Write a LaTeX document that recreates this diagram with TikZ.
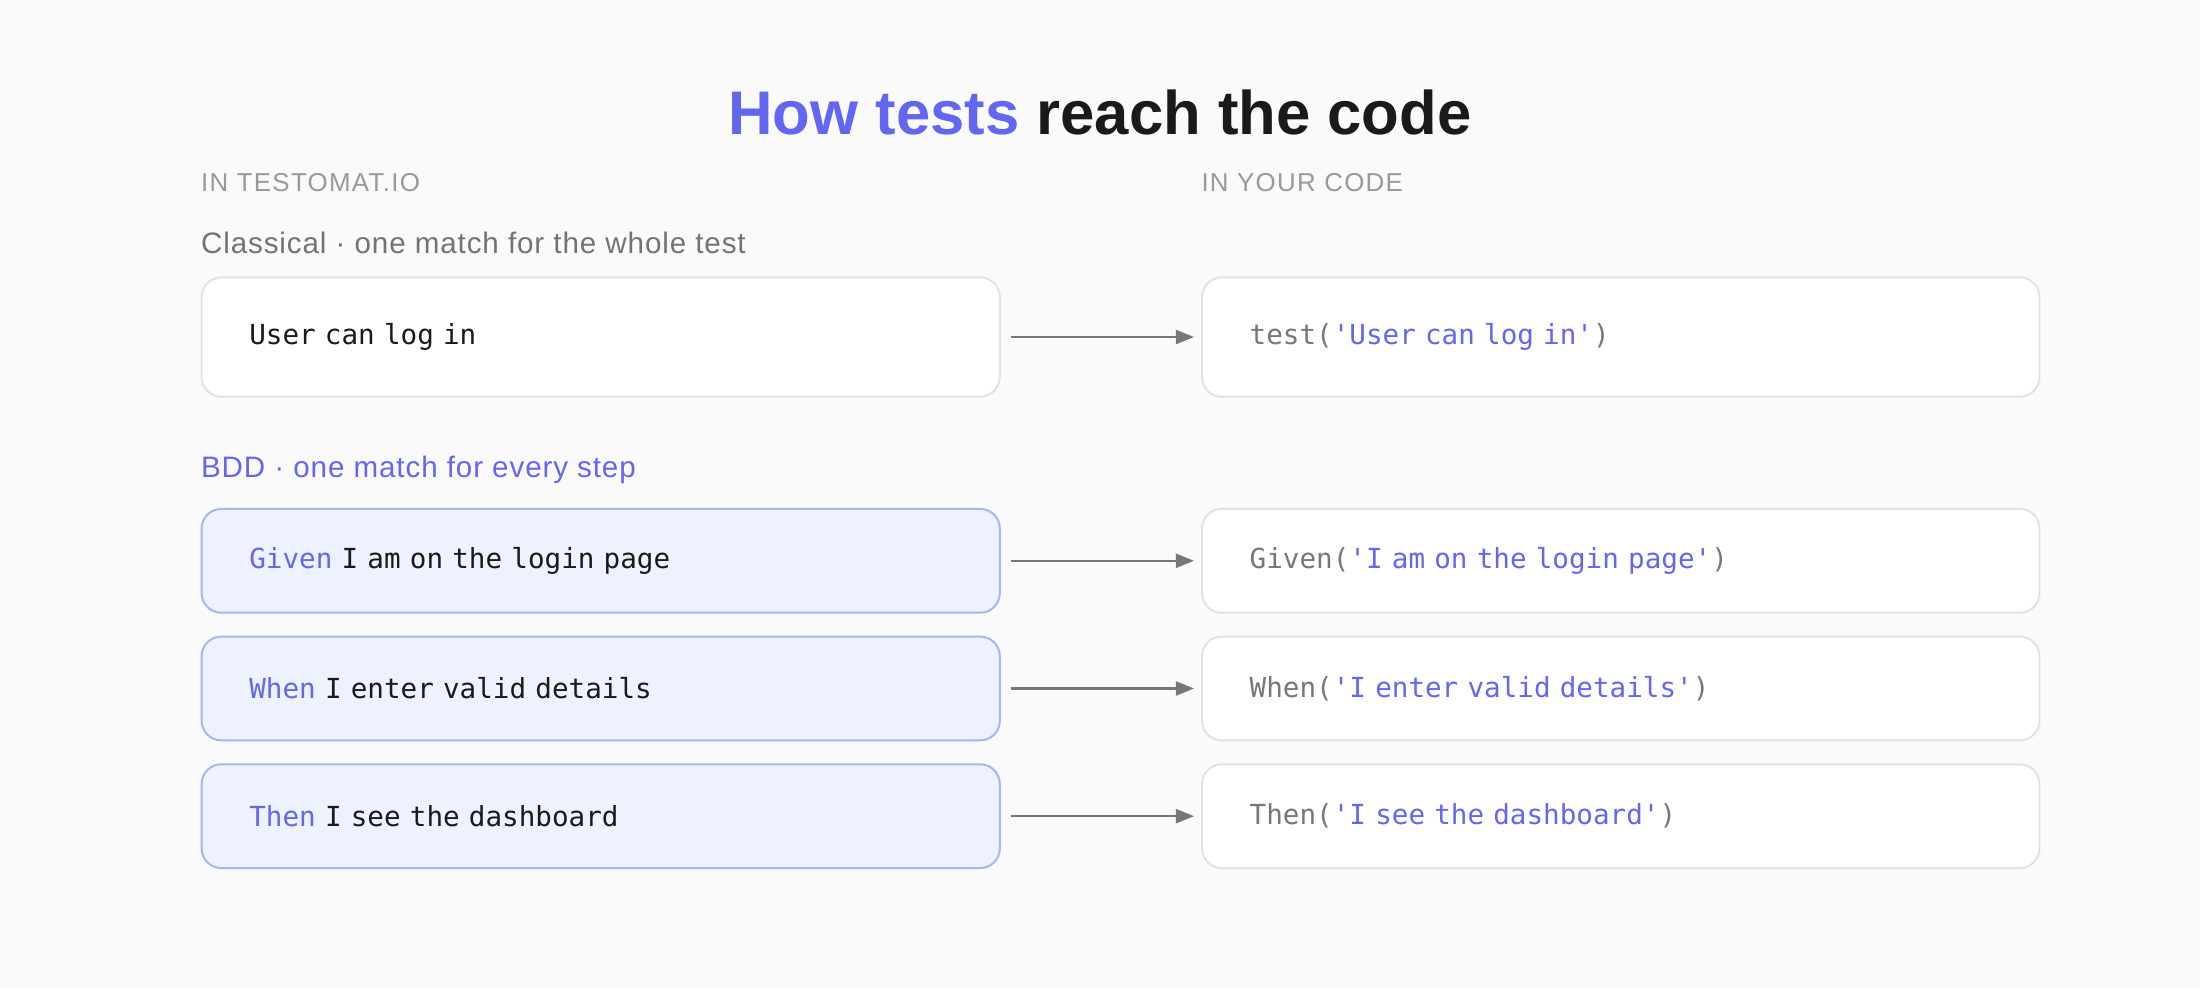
\documentclass[tikz,border=0pt]{standalone}
\usepackage{fontspec}
\setmainfont{Liberation Sans}
\setmonofont{DejaVu Sans Mono}[WordSpace={1,0,0}]
\usetikzlibrary{arrows.meta, positioning}
\definecolor{accent}{HTML}{6366F1}
\definecolor{bddfill}{HTML}{EEF2FF}
\definecolor{bddline}{HTML}{A5B4FC}
\definecolor{boxline}{HTML}{E2E2E2}
\definecolor{pagebg}{HTML}{FAFAFA}
\definecolor{codegray}{HTML}{777777}
\definecolor{ink}{HTML}{1A1A1A}
\begin{document}
\begin{tikzpicture}[
  x=0.02cm, y=-0.02cm,
  head/.style={anchor=west, inner sep=0pt, font=\fontsize{10.5}{12}\selectfont\addfontfeature{LetterSpace=5}, text=black!40},
  sub/.style={anchor=west, inner sep=0pt, font=\fontsize{12}{14}\selectfont\addfontfeature{LetterSpace=3}},
  testbox/.style={rectangle, draw=boxline, fill=white, rounded corners=0.28cm, line width=0.8pt,
    anchor=north west, inner xsep=0.68cm, text width=10.02cm, align=left, text=ink,
    minimum height=1.7cm, font=\ttfamily\fontsize{11.2}{13}\selectfont},
  codebox/.style={testbox, text width=10.58cm, text=codegray},
  stepbox/.style={testbox, draw=bddline, fill=bddfill, minimum height=1.48cm},
  stepcode/.style={codebox, minimum height=1.48cm},
  link/.style={-{Triangle[length=0.26cm, width=0.2cm]}, draw=codegray, line width=1pt,
    shorten <=0.14cm, shorten >=0.1cm}
]
  \fill[pagebg] (0,0) rectangle (1568,704);

  \node[font=\bfseries\fontsize{25}{30}\selectfont, inner sep=0pt, text=ink] (title) at (784,80)
    {\textcolor{accent}{How tests} reach the code};
  \node[head] (lefthead) at (143,130) {IN TESTOMAT.IO};
  \node[head] (righthead) at (856,130) {IN YOUR CODE};

  % classical
  \node[sub, text=black!55] (classic) at (143,173) {Classical · one match for the whole test};
  \node[testbox] (t1) at (143,197) {User can log in};
  \node[codebox] (c1) at (856,197) {test(\textcolor{accent}{'User can log in'})};

  % bdd
  \node[sub, text=accent] (bdd) at (143,335) {BDD · one match for every step};
  \node[stepbox] (s1) at (143,362) {\textcolor{accent}{Given} I am on the login page};
  \node[stepbox] (s2) at (143,453) {\textcolor{accent}{When} I enter valid details};
  \node[stepbox] (s3) at (143,544) {\textcolor{accent}{Then} I see the dashboard};
  \node[stepcode] (c2) at (856,362) {Given(\textcolor{accent}{'I am on the login page'})};
  \node[stepcode] (c3) at (856,453) {When(\textcolor{accent}{'I enter valid details'})};
  \node[stepcode] (c4) at (856,544) {Then(\textcolor{accent}{'I see the dashboard'})};

  \draw[link] (t1) -- (c1);
  \draw[link] (s1) -- (c2);
  \draw[link] (s2) -- (c3);
  \draw[link] (s3) -- (c4);
\end{tikzpicture}
\end{document}
